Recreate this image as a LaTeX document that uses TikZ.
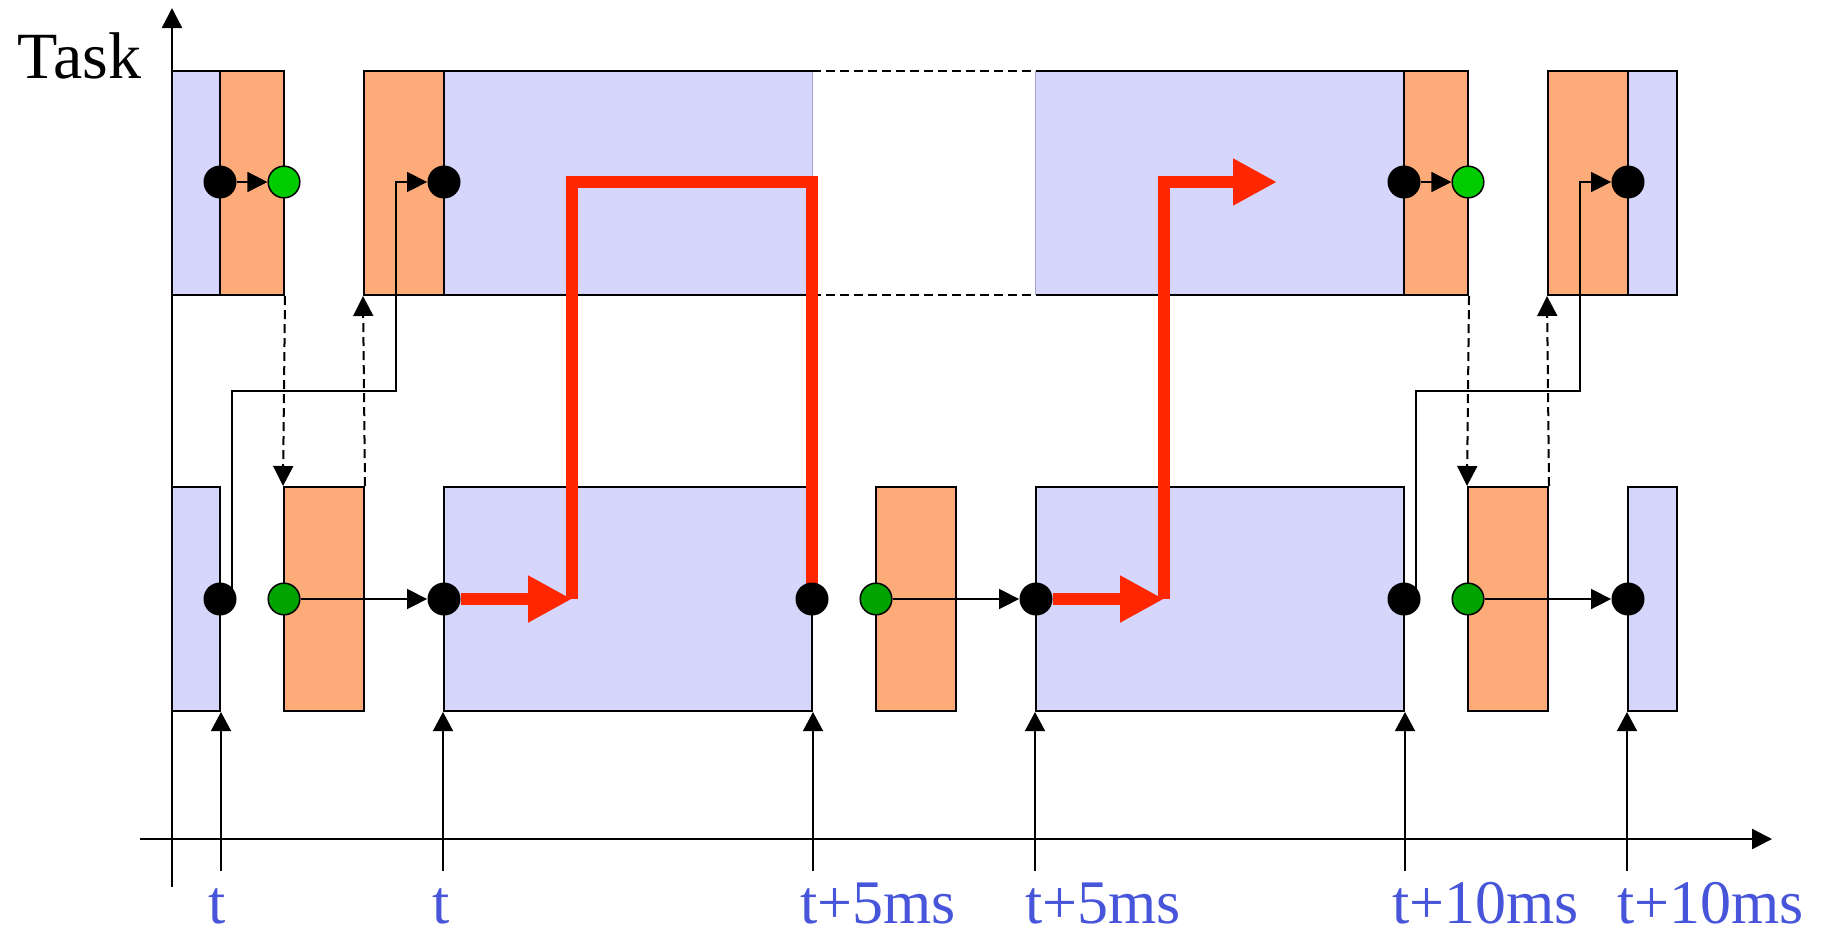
\documentclass[tikz,border=0pt]{standalone}
\usepackage{fontspec}
\setmainfont{Liberation Serif}
\usetikzlibrary{arrows.meta,fit}
\definecolor{bfill}{RGB}{214,214,252}
\definecolor{ofill}{RGB}{253,171,121}
\definecolor{gtop}{RGB}{0,204,0}
\definecolor{gbot}{RGB}{0,163,0}
\definecolor{rline}{RGB}{255,38,0}
\definecolor{lblue}{RGB}{70,85,217}
\definecolor{ledge}{RGB}{165,165,205}
\pgfdeclarelayer{bg}
\pgfsetlayers{bg,main}
\begin{document}
\begin{tikzpicture}[x=0.5pt,y=-0.5pt,
  bbox/.style={fill=bfill, draw=black, line width=1pt, inner sep=0pt},
  bfillonly/.style={fill=bfill, inner sep=0pt},
  obox/.style={fill=ofill, draw=black, line width=1pt, inner sep=0pt},
  blackdot/.style={circle, fill=black, inner sep=0pt, minimum size=16.5pt},
  greendot/.style={circle, draw=black, line width=0.75pt, inner sep=0pt, minimum size=15.8pt},
  conn/.style={line width=0.75pt, -{Triangle[length=10pt,width=10pt]}},
  dconn/.style={conn, line width=1pt, dash pattern=on 4.5pt off 2.5pt},
  dline/.style={line width=1pt, dash pattern=on 4.5pt off 2.5pt},
  redpath/.style={draw=rline, line width=6pt},
  redarrow/.style={redpath, -{Triangle[length=22pt,width=22pt]}},
  timeline/.style={line width=0.7pt, -{Triangle[length=9.5pt,width=10pt]}},
  axis/.style={line width=1.2pt, -{Triangle[length=10pt,width=10pt]}},
  lbl/.style={text=lblue, font=\fontsize{31}{37}\selectfont, anchor=base west, inner sep=0pt},
  edge/.style={line width=1pt}]
\useasboundingbox (0,0) rectangle (1825,933);

% circles (main layer, on top)
\node[blackdot] (tk1) at (220,182) {};
\node[greendot, fill=gtop] (tg1) at (284,182) {};
\node[blackdot] (tk2) at (444,182) {};
\node[blackdot] (tk3) at (1404,182) {};
\node[greendot, fill=gtop] (tg2) at (1468,182) {};
\node[blackdot] (tk4) at (1628,182) {};

\node[blackdot] (bk1) at (220,599) {};
\node[greendot, fill=gbot] (bg1) at (284,599) {};
\node[blackdot] (bk2) at (444,599) {};
\node[blackdot] (bk3) at (812,599) {};
\node[greendot, fill=gbot] (bg2) at (876,599) {};
\node[blackdot] (bk4) at (1036,599) {};
\node[blackdot] (bk5) at (1404,599) {};
\node[greendot, fill=gbot] (bg3) at (1468,599) {};
\node[blackdot] (bk6) at (1628,599) {};

% labels
\node[font=\fontsize{33}{39}\selectfont, anchor=base west, inner sep=0pt] (task) at (17,78) {Task};
\node[lbl] (L1) at (208,923) {t};
\node[lbl] (L2) at (432,923) {t};
\node[lbl] (L3) at (800,923) {t+5ms};
\node[lbl] (L4) at (1025,923) {t+5ms};
\node[lbl] (L5) at (1392,923) {t+10ms};
\node[lbl] (L6) at (1617,923) {t+10ms};

\begin{pgfonlayer}{bg}
% top row boxes
\node[bbox, fit={(172,71) (220,295)}] (TB1) {};
\node[obox, fit={(220,71) (284,295)}] (TO1) {};
\node[obox, fit={(364,71) (444,295)}] (TO2) {};
\node[bfillonly, fit={(444,71) (812,295)}] (TB2) {};
\node[bfillonly, fit={(1036,71) (1404,295)}] (TB3) {};
\node[obox, fit={(1404,71) (1468,295)}] (TO3) {};
\node[obox, fit={(1548,71) (1628,295)}] (TO4) {};
\node[bbox, fit={(1628,71) (1677,295)}] (TB4) {};
\draw[edge] (TB2.north east) -- (TB2.north west) -- (TB2.south west) -- (TB2.south east);
\draw[ledge, line width=0.8pt] (TB2.north east) -- (TB2.south east);
\draw[edge] (TB3.north west) -- (TB3.north east) -- (TB3.south east) -- (TB3.south west);
\draw[ledge, line width=0.8pt] (TB3.north west) -- (TB3.south west);
\draw[dline] (TB2.north east) -- (TB3.north west);
\draw[dline] (TB2.south east) -- (TB3.south west);

% bottom row boxes
\node[bbox, fit={(172,487) (220,711)}] (BB1) {};
\node[obox, fit={(284,487) (364,711)}] (BO1) {};
\node[bbox, fit={(444,487) (812,711)}] (BB2) {};
\node[obox, fit={(876,487) (956,711)}] (BO2) {};
\node[bbox, fit={(1036,487) (1404,711)}] (BB3) {};
\node[obox, fit={(1468,487) (1548,711)}] (BO3) {};
\node[bbox, fit={(1628,487) (1677,711)}] (BB4) {};

% dashed arrows between rows
\draw[dconn] (TO1.south east) -- (BO1.north west);
\draw[dconn] (BO1.north east) -- (TO2.south west);
\draw[dconn] (TO3.south east) -- (BO3.north west);
\draw[dconn] (BO3.north east) -- (TO4.south west);

% axes
\coordinate (yo) at (172,887);
\coordinate (ytop) at (172,8);
\coordinate (xo) at (140,839);
\coordinate (xend) at (1772,839);
\draw[axis] (yo) -- (ytop);
\draw[axis] (xo) -- (xend);

% time lines
\coordinate (tbase) at (0,871);
\draw[timeline] (BB1.south east |- tbase) -- (BB1.south east);
\draw[timeline] (BB2.south west |- tbase) -- (BB2.south west);
\draw[timeline] (BB2.south east |- tbase) -- (BB2.south east);
\draw[timeline] (BB3.south west |- tbase) -- (BB3.south west);
\draw[timeline] (BB3.south east |- tbase) -- (BB3.south east);
\draw[timeline] (BB4.south west |- tbase) -- (BB4.south west);

% thin connectors
\draw[conn] (tk1) -- (tg1);
\draw[conn] (tk3) -- (tg2);
\draw[conn] (bg1) -- (bk2);
\draw[conn] (bg2) -- (bk4);
\draw[conn] (bg3) -- (bk6);
\coordinate (e1) at (396,391);
\coordinate (e2) at (1580,391);
\draw[conn] ([xshift=6pt]bk1.center) |- (e1) |- (tk2);
\draw[conn] ([xshift=6pt]bk5.center) |- (e2) |- (tk4);

% red paths
\coordinate (r1) at (572,599);
\coordinate (r2) at (812,182);
\coordinate (r3) at (1164,599);
\coordinate (r4) at (1277,182);
\draw[redarrow] (bk2) -- (r1);
\draw[redpath] (r1) |- (r2) -- (bk3.center);
\draw[redarrow] (bk4) -- (r3);
\draw[redarrow] (r3) |- (r4);
\end{pgfonlayer}
\end{tikzpicture}
\end{document}
